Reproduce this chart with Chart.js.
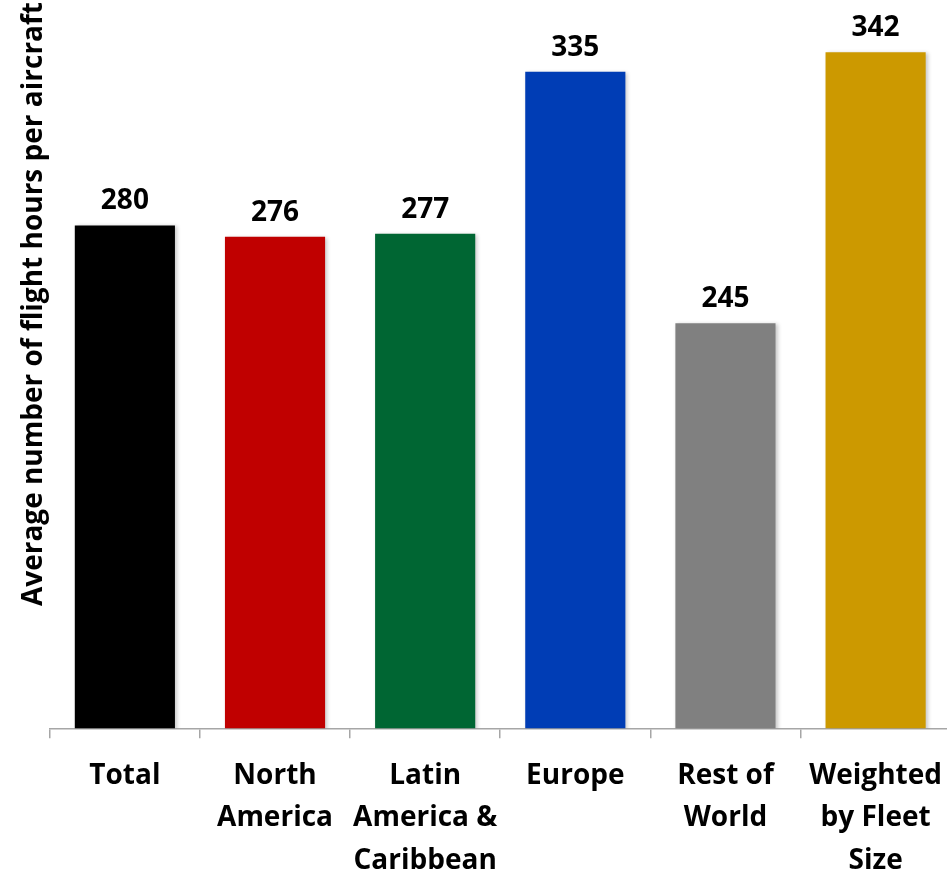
<!DOCTYPE html>
<html>
<head>
<meta charset="utf-8">
<script src="https://cdn.jsdelivr.net/npm/chart.js@4"></script>
<style>
  html, body { margin: 0; padding: 0; background: #fff; overflow: hidden; }
  #wrap { width: 958px; height: 871px; }
</style>
</head>
<body>
<div id="wrap"><canvas id="flightChart" width="958" height="871"></canvas></div>
<script>
const categories = [
    "Total",
    ["North", "America"],
    ["Latin", "America &", "Caribbean"],
    "Europe",
    ["Rest of", "World"],
    ["Weighted", "by Fleet", "Size"]
];
const hours = [280, 276, 277, 335, 245, 342];
const barColors = ["#000000", "#C00000", "#006633", "#003DB5", "#808080", "#CC9900"];
const axisTitle = "Average number of flight hours per aircraft";

const FONT = "'Open Sans', sans-serif";

// soft shadow on the bars, like the office chart
const barShadow = {
    id: "barShadow",
    beforeDatasetsDraw(chart) {
        const ctx = chart.ctx;
        ctx.save();
        ctx.shadowColor = "rgba(0,0,0,0.22)";
        ctx.shadowBlur = 4;
        ctx.shadowOffsetX = 2;
        ctx.shadowOffsetY = 1;
    },
    afterDatasetsDraw(chart) {
        chart.ctx.restore();
    }
};

// value labels above each bar
const valueLabels = {
    id: "valueLabels",
    afterDatasetsDraw(chart) {
        const ctx = chart.ctx;
        const meta = chart.getDatasetMeta(0);
        ctx.save();
        ctx.font = "bold 28px " + FONT;
        ctx.fillStyle = "#000";
        ctx.textAlign = "center";
        ctx.textBaseline = "alphabetic";
        meta.data.forEach((bar, i) => {
            ctx.fillText(hours[i], bar.x, bar.y - 16);
        });
        ctx.restore();
    }
};

new Chart(document.getElementById("flightChart"), {
    type: "bar",
    data: {
        labels: categories,
        datasets: [{
            data: hours,
            backgroundColor: barColors,
            categoryPercentage: 1,
            barPercentage: 0.667
        }]
    },
    options: {
        responsive: false,
        animation: false,
        layout: { padding: { top: 2, left: 19, right: 0, bottom: -27 } },
        plugins: {
            legend: { display: false },
            tooltip: { enabled: false }
        },
        scales: {
            x: {
                border: { color: "#a6a6a6", width: 1.5 },
                grid: {
                    offset: true,
                    drawOnChartArea: false,
                    drawTicks: true,
                    tickLength: 10,
                    color: "#a6a6a6",
                    lineWidth: 1.5
                },
                ticks: {
                    color: "#000",
                    padding: 16,
                    maxRotation: 0,
                    autoSkip: false,
                    font: { family: FONT, size: 28, weight: "bold", lineHeight: 1.52 }
                }
            },
            y: {
                min: 100,
                max: 360,
                border: { display: false },
                grid: { display: false, drawTicks: false, tickLength: 0 },
                ticks: { display: false },
                title: {
                    display: true,
                    text: axisTitle,
                    align: "end",
                    color: "#000",
                    padding: { top: 0, bottom: 0 },
                    font: { family: FONT, size: 28, weight: "bold", lineHeight: 1.1 }
                }
            }
        }
    },
    plugins: [barShadow, valueLabels]
});
</script>
</body>
</html>
